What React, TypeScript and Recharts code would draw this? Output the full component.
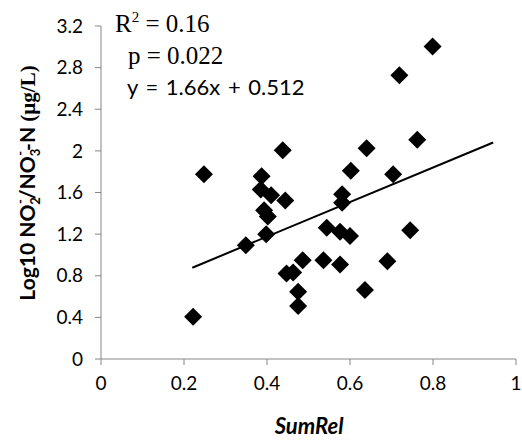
import { ScatterChart, Scatter, XAxis, YAxis, ReferenceLine, Customized } from 'recharts';

// SumRel vs Log10 NO2-/NO3--N
const sumRel = [
  0.222, 0.248, 0.349, 0.387, 0.385, 0.41, 0.393, 0.402, 0.398, 0.438, 0.444,
  0.447, 0.463, 0.475, 0.475, 0.486, 0.536, 0.544, 0.576, 0.576, 0.581, 0.581,
  0.6, 0.602, 0.636, 0.64, 0.69, 0.704, 0.719, 0.745, 0.762, 0.799,
];
const logRatio = [
  0.406, 1.775, 1.094, 1.756, 1.629, 1.574, 1.43, 1.37, 1.2, 2.006, 1.523,
  0.822, 0.832, 0.646, 0.509, 0.95, 0.95, 1.262, 0.909, 1.222, 1.583, 1.502,
  1.183, 1.809, 0.662, 2.025, 0.94, 1.775, 2.726, 1.238, 2.108, 3.004,
];

const xTicks = [0, 0.2, 0.4, 0.6, 0.8, 1];
const yTicks = [0, 0.4, 0.8, 1.2, 1.6, 2, 2.4, 2.8, 3.2];

// trendline from the fitted equation
const slope = 1.66;
const intercept = 0.512;
const trendX = [0.22, 0.945];

const points = sumRel.map((x, i) => ({ x, y: logRatio[i] }));

const AXIS = '#868686';
const SANS = 'Lato, "Open Sans", sans-serif';
const SERIF = '"Liberation Serif", "Times New Roman", serif';

const fmt = (v: number) => String(Number(v.toFixed(1)));

const Diamond = (props: any) => {
  const { cx, cy } = props;
  const r = 9;
  return <polygon points={`${cx},${cy - r} ${cx + r},${cy} ${cx},${cy + r} ${cx - r},${cy}`} fill="#000" />;
};

const Annotations = () => (
  <g>
    <text x={115} y={32} fontFamily={SERIF} fontSize={25} fill="#000">
      R<tspan fontSize={15} dy={-10}>2</tspan>
      <tspan dy={10}> = 0.16</tspan>
    </text>
    <text x={128} y={64} fontFamily={SERIF} fontSize={25} fill="#000">
      p = 0.022
    </text>
    <text x={127} y={95} fontFamily={SANS} fontSize={22} wordSpacing={2} fill="#000">
      y = 1.66x + 0.512
    </text>
    <text x={309} y={434} textAnchor="middle" fontFamily={SANS} fontSize={22} fontWeight="bold" fontStyle="italic" fill="#000">
      SumRel
    </text>
    <text
      transform="translate(35,183) rotate(-90)"
      textAnchor="middle"
      fontFamily={SANS}
      fontSize={21}
      fontWeight="bold"
      fill="#000"
    >
      Log10 NO<tspan fontSize={13} dy={5}>2</tspan>
      <tspan fontSize={13} dx={-7} dy={-15}>-</tspan>
      <tspan dy={10}>/NO</tspan>
      <tspan fontSize={13} dy={5}>3</tspan>
      <tspan fontSize={13} dx={-7} dy={-15}>-</tspan>
      <tspan dy={10}>-N </tspan>
      <tspan fontFamily={SERIF}>(µg/L)</tspan>
    </text>
  </g>
);

export default function App() {
  return (
    <div style={{ position: 'absolute', left: 0, top: 0, width: 522, height: 445, background: '#fff' }}>
      <ScatterChart width={522} height={445} margin={{ top: 26, right: 6, bottom: 0, left: 0 }}>
        <XAxis
          type="number"
          dataKey="x"
          domain={[0, 1]}
          ticks={xTicks}
          tickFormatter={fmt}
          stroke={AXIS}
          tickSize={6}
          tickMargin={12}
          height={86}
          tick={{ fill: '#000', fontSize: 19, fontFamily: SANS }}
        />
        <YAxis
          type="number"
          dataKey="y"
          domain={[0, 3.2]}
          ticks={yTicks}
          tickFormatter={fmt}
          stroke={AXIS}
          tickSize={6}
          tickMargin={12}
          width={101}
          tick={{ fill: '#000', fontSize: 19, fontFamily: SANS }}
        />
        <ReferenceLine
          segment={[
            { x: trendX[0], y: slope * trendX[0] + intercept },
            { x: trendX[1], y: slope * trendX[1] + intercept },
          ]}
          stroke="#000"
          strokeWidth={2}
        />
        <Scatter data={points} shape={Diamond} isAnimationActive={false} />
        <Customized component={Annotations} />
      </ScatterChart>
    </div>
  );
}
